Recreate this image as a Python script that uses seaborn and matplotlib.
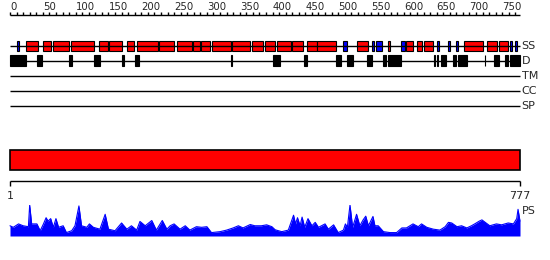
import numpy as np
import pandas as pd
import matplotlib
matplotlib.use("Agg")
import matplotlib.pyplot as plt
import seaborn as sns

# ---------------- data ----------------
seq_len = 777
ruler_labels = list(range(0, 751, 50))
ruler_minor = list(range(0, 771, 10))

helix_start = [24, 50, 66, 93, 135, 151, 178, 194, 227, 254, 279, 291, 308, 338, 369, 389,
               407, 430, 453, 468, 529, 576, 603, 620, 631, 692, 727, 745]
helix_end = [43, 63, 90, 128, 150, 171, 189, 226, 250, 277, 289, 304, 337, 365, 385, 404,
             428, 447, 467, 497, 545, 579, 614, 628, 644, 721, 742, 759]
strand_start = [11, 507, 551, 558, 596, 650, 667, 679, 762, 770]
strand_end = [14, 514, 555, 567, 602, 654, 671, 683, 765, 773]

dis_start = [0, 41, 90, 128, 171, 190, 336, 401, 448, 496, 514, 544, 569, 576, 646, 651,
             657, 675, 683, 723, 737, 754, 762]
dis_end = [24, 48, 95, 137, 173, 196, 338, 411, 453, 505, 523, 551, 573, 596, 647, 652,
           665, 679, 697, 724, 745, 758, 777]

track_labels = ["SS", "D", "TM", "CC", "SP"]
domain_start = [0]
domain_end = [777]
axis_labels = ["1", "777"]

ps_pos = [0, 5, 13, 20, 28, 30, 33, 38, 41, 46, 51, 55, 58, 62, 66, 70, 74, 81, 86, 94, 99,
          105, 109, 117, 121, 127, 137, 145, 150, 160, 170, 178, 185, 193, 198, 206, 216,
          223, 232, 239, 244, 250, 259, 267, 274, 284, 292, 300, 307, 320, 330, 340, 348,
          355, 366, 373, 383, 391, 399, 404, 414, 424, 432, 435, 438, 442, 445, 449, 454,
          460, 465, 470, 480, 485, 493, 500, 508, 511, 514, 518, 522, 528, 533, 538, 542,
          546, 553, 556, 561, 569, 579, 589, 597, 604, 614, 622, 627, 635, 645, 655, 663,
          668, 673, 681, 688, 696, 703, 708, 715, 719, 724, 731, 741, 749, 759, 767, 772,
          774, 777]
ps_val = [0.33, 0.28, 0.39, 0.33, 0.30, 1.00, 0.39, 0.39, 0.39, 0.17, 0.39, 0.59, 0.48,
          0.56, 0.28, 0.56, 0.28, 0.33, 0.11, 0.17, 0.33, 0.97, 0.33, 0.28, 0.39, 0.28,
          0.22, 0.70, 0.22, 0.17, 0.42, 0.22, 0.33, 0.19, 0.47, 0.33, 0.50, 0.19, 0.50,
          0.22, 0.33, 0.39, 0.22, 0.33, 0.19, 0.30, 0.28, 0.30, 0.11, 0.14, 0.19, 0.26,
          0.33, 0.26, 0.37, 0.33, 0.33, 0.36, 0.30, 0.20, 0.14, 0.19, 0.67, 0.39, 0.59,
          0.33, 0.61, 0.28, 0.56, 0.33, 0.44, 0.28, 0.39, 0.22, 0.36, 0.11, 0.19, 0.39,
          0.28, 1.00, 0.28, 0.70, 0.33, 0.52, 0.64, 0.33, 0.63, 0.33, 0.33, 0.14, 0.11,
          0.11, 0.26, 0.26, 0.39, 0.30, 0.39, 0.28, 0.22, 0.19, 0.30, 0.44, 0.42, 0.30,
          0.33, 0.26, 0.33, 0.39, 0.48, 0.52, 0.44, 0.33, 0.39, 0.36, 0.42, 0.39, 0.56,
          0.86, 0.48]

# ---------------- style ----------------
sns.set_style("white")
plt.rcParams['font.family'] = ['DejaVu Sans']

W, H = 550, 260
fig = plt.figure(figsize=(W / 100, H / 100), dpi=100)
ax = fig.add_axes([0, 0, 1, 1])
res_per_px = seq_len / 510.0
x0 = -10 * res_per_px
x1 = x0 + W * res_per_px
ax.set_xlim(x0, x1)
ax.set_ylim(H, 0)
ax.axis('off')

lab_x = seq_len + 1.5 * res_per_px
fs_lab = 8

# ruler
y_rule = 15
ax.hlines(y_rule, 0, seq_len, color='black', lw=1)
ax.vlines(ruler_minor, y_rule - 3.5, y_rule, color='black', lw=1)
for v in ruler_labels:
    ax.text(v, y_rule - 3, str(v), ha='left', va='bottom', fontsize=7.3)

# SS track
y_ss = 45.5
ax.hlines(y_ss, 0, seq_len, color='black', lw=1)
ax.barh([y_ss] * len(helix_start), np.array(helix_end) - np.array(helix_start),
        left=helix_start, height=10, color='#ff0000', edgecolor='black', linewidth=0.8)
ax.barh([y_ss] * len(strand_start), np.array(strand_end) - np.array(strand_start),
        left=strand_start, height=10, color='#0000ff', edgecolor='black', linewidth=0.8)

# D track
y_d = 60.5
ax.hlines(y_d, 0, seq_len, color='black', lw=1)
ax.barh([y_d] * len(dis_start), np.array(dis_end) - np.array(dis_start),
        left=dis_start, height=11, color='black', edgecolor='black', linewidth=0.8)

# TM / CC / SP
track_y = [y_ss, y_d, 75.5, 90.5, 105.5]
for yy in track_y[2:]:
    ax.hlines(yy, 0, seq_len, color='black', lw=1)
for name, yy in zip(track_labels, track_y):
    ax.text(lab_x, yy + 0.5, name, ha='left', va='center', fontsize=fs_lab)

# domain bar
ax.barh([160], np.array(domain_end) - np.array(domain_start), left=domain_start,
        height=20, color='#ff0000', edgecolor='black', linewidth=1.2)

# bottom axis
y_ax = 180.5
ax.hlines(y_ax, 0, seq_len, color='black', lw=1)
ax.vlines([0, seq_len], y_ax, y_ax + 5, color='black', lw=1)
ax.text(0, 196, axis_labels[0], ha='center', va='center', fontsize=fs_lab)
ax.text(seq_len, 196, axis_labels[1], ha='center', va='center', fontsize=fs_lab)
ax.text(lab_x, 211, "PS", ha='left', va='center', fontsize=fs_lab)

# PS profile
ps_df = pd.DataFrame({"pos": ps_pos, "val": ps_val})
axp = fig.add_axes([0, (H - 236) / H, 1, 31 / H])
axp.set_xlim(x0, x1)
axp.set_ylim(0, 1)
axp.axis('off')
axp.fill_between(ps_df["pos"], 0, ps_df["val"], color='#0000ff', lw=0)
sns.lineplot(data=ps_df, x="pos", y="val", ax=axp, color='#0000ff', lw=0.8)
axp.set_xlim(x0, x1)
axp.set_ylim(0, 1)

fig.savefig("out.png", dpi=100)
